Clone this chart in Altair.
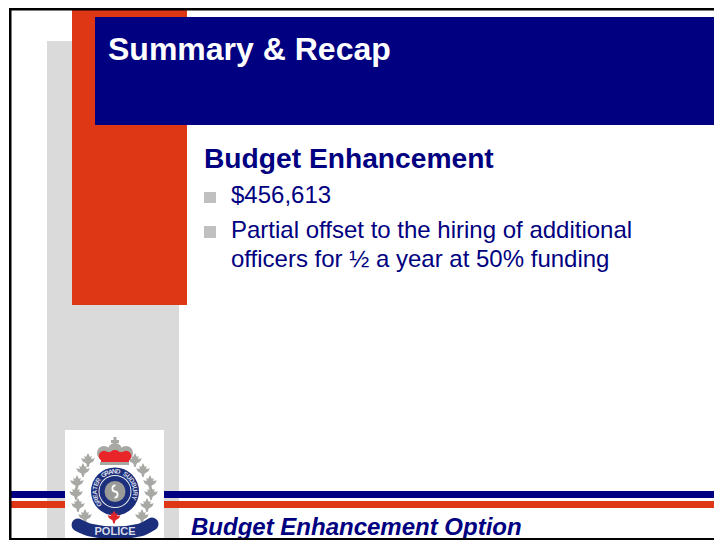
import altair as alt
import pandas as pd

NAVY = "#000080"
RED = "#DD3716"
GRAY = "#DADADA"
BLUE = "#1C2F7C"
LEAF = "#A8A8A4"

# reference-picture coordinates on linear scales
rect_left = [47, 72, 95, 11, 11, 65, 204, 204, 9, 9, 9,
             101, 113.5, 111, 100]
rect_right = [179, 187, 714, 714, 714, 164, 216, 216, 714, 714, 11.5,
              129, 116.5, 119, 129]
rect_top = [41, 10, 17, 491, 501, 430, 192, 226, 8, 538, 8,
            452, 437, 440, 462]
rect_bottom = [540, 305, 125, 498, 508, 540, 203, 238, 10.5, 540, 540,
               462, 450, 443, 465]
rect_color = [GRAY, RED, NAVY, NAVY, RED, "#FFFFFF", "#C0C0C0", "#C0C0C0",
              "#000000", "#000000", "#000000", "#E8262A", LEAF, LEAF, LEAF]

text_labels = ["Summary & Recap", "Budget Enhancement", "$456,613",
               "Partial offset to the hiring of additional",
               "officers for ½ a year at 50% funding",
               "Budget Enhancement Option"]
text_x = [108, 204, 231, 231, 231, 191]
text_y = [60, 168, 203, 238, 267, 535]
text_size = [32, 28.2, 24, 24, 24, 24]
text_weight = ["bold", "bold", "normal", "normal", "normal", "bold"]
text_style = ["normal", "normal", "normal", "normal", "normal", "italic"]
text_color = ["#FFFFFF", NAVY, NAVY, NAVY, NAVY, NAVY]

# emblem
leaf_x = [88, 83, 77, 76, 78, 85, 135, 143, 150, 151, 147, 142]
leaf_y = [460, 470, 482, 493, 505, 516, 460, 470, 482, 493, 505, 516]
arch_x = [104, 115, 126]
arch_y = [453, 450, 453]
crown_x = [104, 115, 126]
crown_y = [456, 455, 456]

ring_inner = [0, 15.5, 0]
ring_outer = [24, 16.5, 10.5]
ring_color = [BLUE, "#EDEDED", "#9A9A98"]

swirl_x = [115.5, 114.5]
swirl_y = [488.5, 494.5]
swirl_r0 = [2.2, 2.2]
swirl_r1 = [4, 4]
swirl_t0 = [3.14, 0]
swirl_t1 = [6.28, 3.14]

ring_letters = list("GREATER GRAND SUDBURY")
ring_angles = [-128, -116, -104, -92, -80, -68, -56, -44, -34, -24, -13, -2, 9,
               20, 31, 44, 57, 70, 83, 96, 109]

banner_x = [78, 90, 115, 140, 152]
banner_y = [525, 530, 533, 530, 524]

police_text = ["POLICE"]
police_x = [115]
police_y = [535]

red_leaf_x = [114]
red_leaf_y = [517]

LEAF_PATH = ("M0,-1 L0.28,-0.45 L0.55,-0.6 L0.45,-0.15 L1,-0.25 L0.75,0.2 "
             "L0.25,0.5 L0.1,1 L-0.1,1 L-0.25,0.5 L-0.75,0.2 L-1,-0.25 "
             "L-0.45,-0.15 L-0.55,-0.6 L-0.28,-0.45 Z")

sx = alt.Scale(domain=[8, 714], range=[0, 706])
sy = alt.Scale(domain=[8, 540], range=[0, 532])
X = alt.X("x:Q", scale=sx, axis=None)
Y = alt.Y("y:Q", scale=sy, axis=None)

rects = pd.DataFrame(dict(x=rect_left, x2=rect_right, y=rect_top, y2=rect_bottom, c=rect_color))


def rect_layer(idx):
    return alt.Chart(rects.iloc[idx]).mark_rect().encode(
        x=X, x2="x2:Q", y=Y, y2="y2:Q",
        color=alt.Color("c:N", scale=None),
    )


def text_layer(i):
    d = pd.DataFrame(dict(t=[text_labels[i]], x=[text_x[i]], y=[text_y[i]]))
    return alt.Chart(d).mark_text(
        align="left", baseline="alphabetic", font="Liberation Sans",
        fontSize=text_size[i], fontWeight=text_weight[i], fontStyle=text_style[i],
        color=text_color[i],
    ).encode(x=X, y=Y, text="t:N")


def arcs(xs, ys, r0, r1, t0, t1, colors):
    d = pd.DataFrame(dict(x=xs, y=ys, r0=r0, r1=r1, t0=t0, t1=t1, c=colors))
    return alt.Chart(d).mark_arc().encode(
        x=X, y=Y,
        radius=alt.Radius("r1:Q", scale=None),
        radius2="r0:Q",
        theta=alt.Theta("t0:Q", scale=None),
        theta2="t1:Q",
        color=alt.Color("c:N", scale=None),
    )


n_ring = len(ring_inner)
ring_layer = arcs([115] * n_ring, [491.5] * n_ring, ring_inner, ring_outer,
                  [0] * n_ring, [6.2832] * n_ring, ring_color)
swirl_layer = arcs(swirl_x, swirl_y, swirl_r0, swirl_r1, swirl_t0, swirl_t1,
                   ["#FFFFFF", "#FFFFFF"])

leaves = alt.Chart(pd.DataFrame(dict(x=leaf_x, y=leaf_y))).mark_point(
    shape=LEAF_PATH, filled=True, color=LEAF, opacity=1, size=190
).encode(x=X, y=Y)

arch = alt.Chart(pd.DataFrame(dict(x=arch_x, y=arch_y))).mark_circle(
    color=LEAF, opacity=1, size=200
).encode(x=X, y=Y)

crown = alt.Chart(pd.DataFrame(dict(x=crown_x, y=crown_y))).mark_circle(
    color="#E8262A", opacity=1, size=110
).encode(x=X, y=Y)

banner = alt.Chart(pd.DataFrame(dict(x=banner_x, y=banner_y, o=range(5)))).mark_line(
    color=BLUE, strokeWidth=13, interpolate="monotone", strokeCap="round"
).encode(x=X, y=Y, order="o:Q")

ring_text = alt.Chart(pd.DataFrame(dict(t=ring_letters, a=ring_angles))).transform_calculate(
    x="115 + 20 * sin(datum.a * PI / 180)",
    y="491.5 - 20 * cos(datum.a * PI / 180)",
    rot="(datum.a + 360) % 360",
).mark_text(
    font="Liberation Sans", fontSize=6.5, fontWeight="bold", color="#D8DCE8",
    align="center", baseline="middle",
).encode(x=X, y=Y, text="t:N", angle=alt.Angle("rot:Q", scale=None))

police = alt.Chart(pd.DataFrame(dict(t=police_text, x=police_x, y=police_y))).mark_text(
    font="Liberation Sans", fontSize=11, fontWeight="bold", color="#D8DCE8",
    align="center", baseline="alphabetic",
).encode(x=X, y=Y, text="t:N")

red_leaf = alt.Chart(pd.DataFrame(dict(x=red_leaf_x, y=red_leaf_y))).mark_point(
    shape=LEAF_PATH, filled=True, color="#E0252A", opacity=1, size=170
).encode(x=X, y=Y)

chart = alt.layer(
    rect_layer([0, 1, 2, 3, 4, 5, 6, 7]),
    *[text_layer(i) for i in range(len(text_labels))],
    leaves,
    arch,
    rect_layer([11]),
    crown,
    rect_layer([12, 13, 14]),
    ring_layer,
    swirl_layer,
    ring_text,
    red_leaf,
    banner,
    police,
    rect_layer([8, 9, 10]),
).properties(width=706, height=532, padding=0, autosize=alt.AutoSizeParams(type="none")
).configure_view(stroke=None)

chart.save("out.html", embed_options={"renderer": "svg", "actions": False})
